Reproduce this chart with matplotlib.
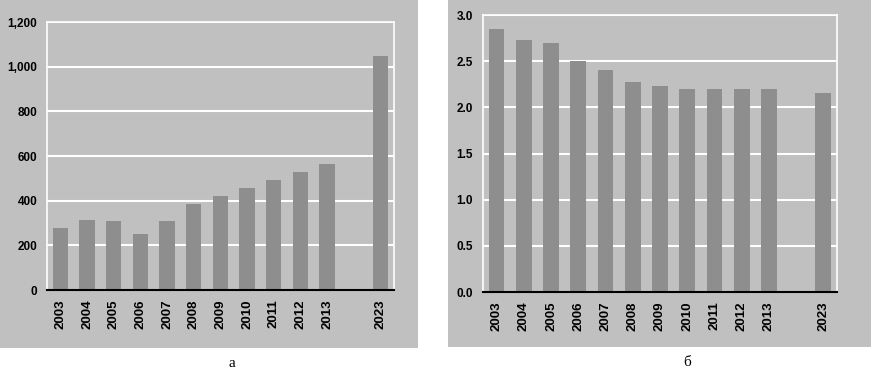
import numpy as np
import matplotlib
matplotlib.use("Agg")
import matplotlib.pyplot as plt
from matplotlib.patches import Rectangle
from matplotlib.ticker import FuncFormatter

years = ["2003", "2004", "2005", "2006", "2007", "2008",
         "2009", "2010", "2011", "2012", "2013", "2023"]
# slot index of each bar (one empty slot before 2023)
slots = [0, 1, 2, 3, 4, 5, 6, 7, 8, 9, 10, 12]

values_a = [278, 314, 308, 249, 308, 387, 421, 457, 493, 528, 564, 1047]
values_b = [2.85, 2.73, 2.70, 2.50, 2.40, 2.28, 2.23, 2.20, 2.20, 2.20, 2.20, 2.16]

ticks_a = [0, 200, 400, 600, 800, 1000, 1200]
ticks_b = [0.0, 0.5, 1.0, 1.5, 2.0, 2.5, 3.0]

panel_labels = ["а", "б"]

bg = "#c0c0c0"
bar_color = "#8e8e8e"

plt.rcParams["font.family"] = ["Liberation Sans", "DejaVu Sans"]

fig = plt.figure(figsize=(8.71, 3.71), dpi=100)
fig.patch.set_facecolor("white")

# grey panels behind each chart
fig.patches.append(Rectangle((0.0, 0.062), 0.48, 0.938,
                             transform=fig.transFigure, facecolor=bg,
                             edgecolor="none", zorder=-5))
fig.patches.append(Rectangle((0.5143, 0.0647), 0.4857, 0.9353,
                             transform=fig.transFigure, facecolor=bg,
                             edgecolor="none", zorder=-5))

ax_a = fig.add_axes([0.054, 0.2183, 0.398, 0.7224])
ax_b = fig.add_axes([0.5545, 0.2129, 0.4064, 0.7466])


def style(ax, values, ticks, fmt):
    ax.set_facecolor(bg)
    ax.bar(slots, values, width=0.58, color=bar_color, zorder=2)
    ax.set_xlim(-0.5, 12.5)
    ax.set_ylim(ticks[0], ticks[-1])
    ax.set_yticks(ticks)
    ax.yaxis.set_major_formatter(FuncFormatter(fmt))
    ax.set_xticks(slots)
    ax.set_xticklabels(years, rotation=90)
    ax.grid(axis="y", color="white", linewidth=1.5, zorder=1)
    ax.set_axisbelow(True)
    ax.tick_params(axis="y", length=0, labelsize=8.5, pad=7)
    ax.tick_params(axis="x", length=0, labelsize=9.5, pad=7)
    for lab in ax.get_xticklabels() + ax.get_yticklabels():
        lab.set_fontweight("bold")
    for side in ["top", "left", "right"]:
        ax.spines[side].set_color("white")
        ax.spines[side].set_linewidth(1.2)
    ax.spines["bottom"].set_color("black")
    ax.spines["bottom"].set_linewidth(1.5)
    ax.spines["bottom"].set_zorder(3)


style(ax_a, values_a, ticks_a, lambda v, p: f"{int(v):,}")
style(ax_b, values_b, ticks_b, lambda v, p: f"{v:.1f}")

fig.text(0.266, 0.019, panel_labels[0], family="Liberation Serif",
         fontsize=11, ha="center", va="center")
fig.text(0.789, 0.022, panel_labels[1], family="Liberation Serif",
         fontsize=11, ha="center", va="center")

fig.savefig("out.png", dpi=100, facecolor="white")
